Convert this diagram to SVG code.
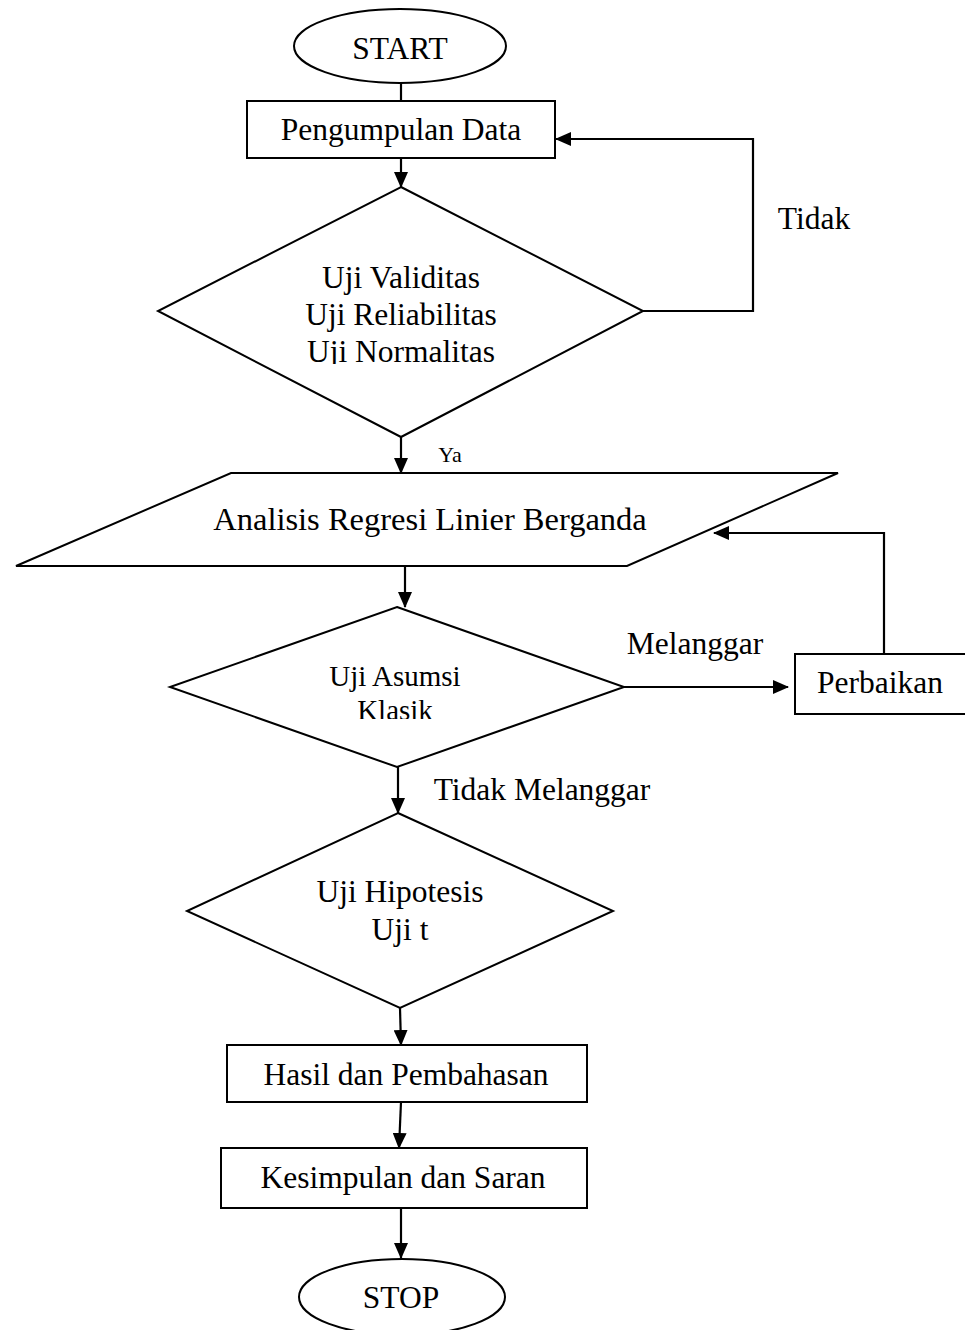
<svg xmlns="http://www.w3.org/2000/svg" width="965" height="1330" viewBox="0 0 965 1330">
<style>
.s{fill:#fff;stroke:#000;stroke-width:2}
.t{font-family:"Liberation Serif","Times New Roman",serif;font-size:31.5px;fill:#000;text-anchor:middle}
.c{fill:none;stroke:#000;stroke-width:2.2}
</style>
<defs>
<marker id="ah" markerUnits="userSpaceOnUse" markerWidth="16" markerHeight="14" refX="15" refY="7" orient="auto">
<path d="M0,0 L16,7 L0,14 Z" fill="#000"/>
</marker>
<clipPath id="clip1"><rect x="150" y="180" width="500" height="184"/></clipPath>
<clipPath id="clip2"><rect x="160" y="600" width="470" height="119"/></clipPath>
</defs>
<rect width="965" height="1330" fill="#fff"/>
<g id="connectors">
<line class="c" x1="401" y1="83" x2="401" y2="101"/>
<line class="c" x1="401" y1="158" x2="401" y2="187" marker-end="url(#ah)"/>
<polyline class="c" points="643,311 753,311 753,139 556,139" marker-end="url(#ah)"/>
<line class="c" x1="401" y1="437" x2="401" y2="473" marker-end="url(#ah)"/>
<line class="c" x1="405" y1="565" x2="405" y2="607" marker-end="url(#ah)"/>
<line class="c" x1="624" y1="687" x2="788" y2="687" marker-end="url(#ah)"/>
<polyline class="c" points="884,654 884,533 714,533" marker-end="url(#ah)"/>
<line class="c" x1="398" y1="767" x2="398" y2="813" marker-end="url(#ah)"/>
<line class="c" x1="400" y1="1008" x2="401" y2="1045" marker-end="url(#ah)"/>
<line class="c" x1="401" y1="1102" x2="399" y2="1148" marker-end="url(#ah)"/>
<line class="c" x1="401" y1="1208" x2="401" y2="1258" marker-end="url(#ah)"/>
</g>
<g id="start">
<ellipse class="s" cx="400" cy="46" rx="106" ry="37"/>
<text class="t" x="400" y="59">START</text>
</g>
<g id="pengumpulan">
<rect class="s" x="247" y="101" width="308" height="57"/>
<text class="t" x="401" y="140">Pengumpulan Data</text>
</g>
<g id="uji1">
<polygon class="s" points="401,187 643,311 401,437 158,311"/>
<g clip-path="url(#clip1)">
<text class="t" x="401" y="288">Uji Validitas</text>
<text class="t" x="401" y="325">Uji Reliabilitas</text>
<text class="t" x="401" y="362">Uji Normalitas</text>
</g>
</g>
<g id="analisis">
<polygon class="s" points="231,473 838,473 627,566 16,566"/>
<text class="t" x="430" y="530" style="font-size:32.5px">Analisis Regresi Linier Berganda</text>
</g>
<g id="asumsi">
<polygon class="s" points="397,607 624,687 397,767 170,687"/>
<g clip-path="url(#clip2)">
<text class="t" x="395" y="686" style="font-size:29px">Uji Asumsi</text>
<text class="t" x="395" y="720" style="font-size:29px">Klasik</text>
</g>
</g>
<g id="perbaikan">
<rect class="s" x="795" y="654" width="172" height="60"/>
<text class="t" x="880" y="693">Perbaikan</text>
</g>
<g id="hipotesis">
<polygon class="s" points="398,813 613,911 400,1008 187,911"/>
<text class="t" x="400" y="902">Uji Hipotesis</text>
<text class="t" x="400" y="940">Uji t</text>
</g>
<g id="hasil">
<rect class="s" x="227" y="1045" width="360" height="57"/>
<text class="t" x="406" y="1085">Hasil dan Pembahasan</text>
</g>
<g id="kesimpulan">
<rect class="s" x="221" y="1148" width="366" height="60"/>
<text class="t" x="403" y="1188">Kesimpulan dan Saran</text>
</g>
<g id="stop">
<ellipse class="s" cx="402" cy="1297" rx="103" ry="38"/>
<text class="t" x="401" y="1308">STOP</text>
</g>
<g id="labels">
<text class="t" x="814" y="229">Tidak</text>
<text class="t" x="450" y="462" style="font-size:22px">Ya</text>
<text class="t" x="695" y="654">Melanggar</text>
<text class="t" x="542" y="800">Tidak Melanggar</text>
</g>
</svg>
